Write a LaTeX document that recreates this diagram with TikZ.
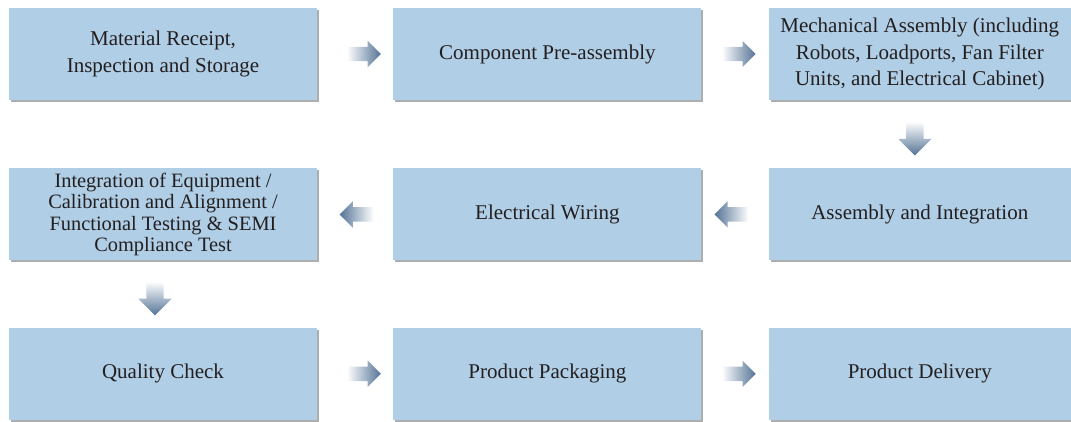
\documentclass[tikz,border=0pt]{standalone}
\usepackage{fontspec}
\setmainfont{Liberation Serif}
\usetikzlibrary{positioning, shapes.arrows, shadows, calc}

\definecolor{boxblue}{HTML}{B0CEE6}
\definecolor{arrowblue}{HTML}{547396}
\definecolor{inkgrey}{HTML}{231F20}

\begin{document}
\begin{tikzpicture}[x=1pt,y=1pt,node distance=76pt,
	stage/.style={rectangle, fill=boxblue, minimum width=308pt, minimum height=92pt, inner sep=0pt,
		align=center, text=inkgrey, font=\fontsize{21}{26.5}\selectfont,
		drop shadow={shadow xshift=2pt, shadow yshift=-2pt, opacity=.45, fill=black!70}},
	flow/.style={single arrow, draw=none, inner xsep=0pt, inner ysep=7pt, minimum height=34pt,
		single arrow head extend=6pt, single arrow head indent=0pt},
	flow right/.style={flow, left color=white, right color=arrowblue},
	flow left/.style={flow, shape border rotate=180, left color=arrowblue, right color=white},
	flow down/.style={flow, shape border rotate=270, inner xsep=8.5pt, inner ysep=0pt, single arrow head extend=8pt,
		top color=white, bottom color=arrowblue}]
		\useasboundingbox (0,0) rectangle (1071,-422);
		% top row
		\node[stage] at (163,-54)							(RECEIPT) 	{Material Receipt,\\Inspection and Storage};
		\node[stage, right=76pt of RECEIPT					] (PREASM) 		{Component Pre-assembly};
		\node[stage, right=67pt of PREASM, minimum width=302pt	] (MECH_ASM) 	{Mechanical Assembly (including\\Robots, Loadports, Fan Filter\\Units, and Electrical Cabinet)};
		% middle row
		\node[stage, below=68pt of MECH_ASM, minimum width=302pt	] (ASM_INT) 	{Assembly and Integration};
		\node[stage, below=68pt of PREASM					] (WIRING) 		{Electrical Wiring};
		\node[stage, below=68pt of RECEIPT, font=\fontsize{20.4}{21.5}\selectfont] (INTEGR) {Integration of Equipment /\\Calibration and Alignment /\\Functional Testing \& SEMI\\Compliance Test};
		% bottom row
		\node[stage, below=67pt of INTEGR					] (QC) 			{Quality Check};
		\node[stage, below=67pt of WIRING					] (PACK) 		{Product Packaging};
		\node[stage, below=67pt of ASM_INT, minimum width=302pt	] (DELIVERY) 	{Product Delivery};

		\node[flow right] at ($(RECEIPT.east)!0.5!(PREASM.west)+(5,0)$)		{};
		\node[flow right] at ($(PREASM.east)!0.5!(MECH_ASM.west)$)			{};
		\node[flow down ] at ($(MECH_ASM.south)!0.5!(ASM_INT.north)+(-5,0)$)	{};
		\node[flow left ] at ($(ASM_INT.west)!0.5!(WIRING.east)$)			{};
		\node[flow left ] at ($(WIRING.west)!0.5!(INTEGR.east)+(5,0)$)		{};
		\node[flow down ] at ($(INTEGR.south)!0.5!(QC.north)+(-8,0)$)		{};
		\node[flow right] at ($(QC.east)!0.5!(PACK.west)+(5,0)$)			{};
		\node[flow right] at ($(PACK.east)!0.5!(DELIVERY.west)$)			{};
\end{tikzpicture}
\end{document}
